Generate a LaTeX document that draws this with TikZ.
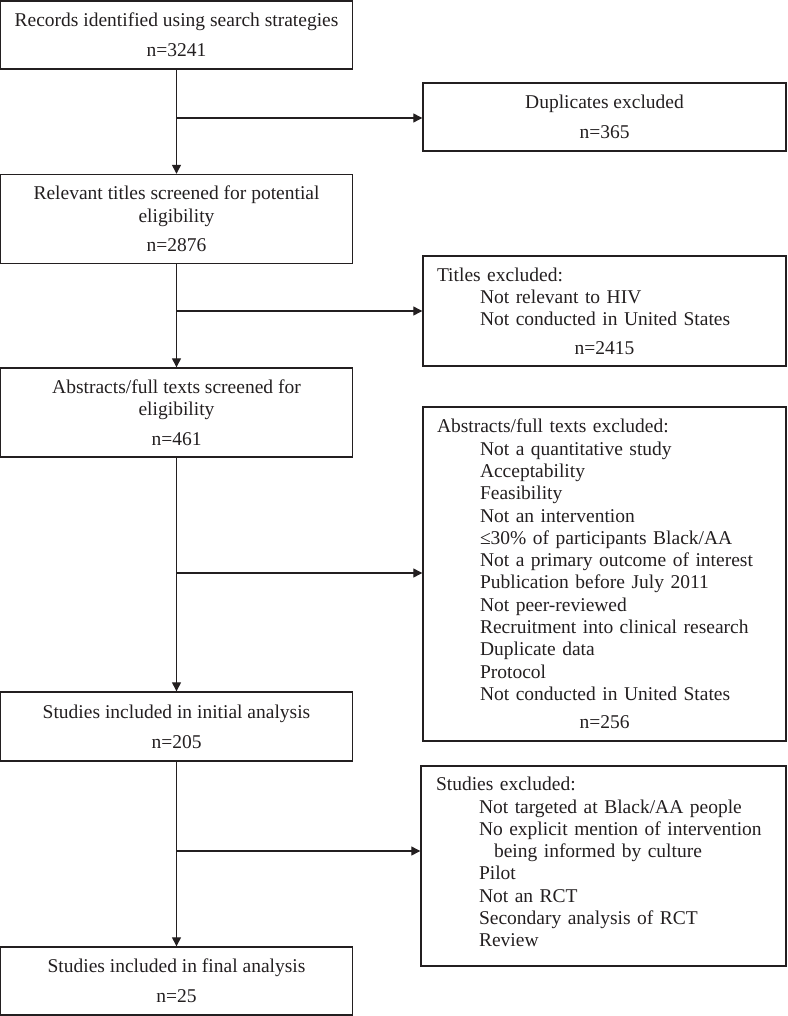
\documentclass[tikz,border=0pt]{standalone}
\usepackage{fontspec}
\setmainfont{Liberation Serif}
\usetikzlibrary{arrows.meta}
\definecolor{ln}{HTML}{231F20}
\newcommand{\myind}{\hspace*{43pt}}
\begin{document}
\begin{tikzpicture}[x=1pt,y=1pt,
  every node/.style={font=\fontsize{19.5}{22.3}\selectfont, text=ln},
  cbox/.style={draw=ln, line width=1.4pt, inner sep=0pt, align=center},
  rbox/.style={draw=ln, line width=1.4pt, inner sep=0pt, minimum width=363pt,
    text width=335pt, align=left, execute at begin node={\setlength{\parindent}{0pt}}},
  arr/.style={draw=ln, line width=1.3pt, -{Triangle[length=9pt,width=9pt]}},
  brl/.style={draw=ln, line width=1.2pt, -{Triangle[length=9pt,width=9pt]}}]
\useasboundingbox (0,0) rectangle (787,-1016);

% main column
\node[cbox, minimum width=352pt, minimum height=68pt] (b1) at (176.5,-35)
  {Records identified using search strategies\\[8pt]n=3241};
\node[cbox, minimum width=352pt, minimum height=89pt] (b3) at (176.5,-219)
  {Relevant titles screened for potential\\eligibility\\[7pt]n=2876};
\node[cbox, minimum width=352pt, minimum height=89pt] (b4) at (176.5,-412.5)
  {Abstracts/full texts screened for\\eligibility\\[7pt]n=461};
\node[cbox, minimum width=352pt, minimum height=69pt] (b5) at (176.5,-726.5)
  {Studies included in initial analysis\\[8pt]n=205};
\node[cbox, minimum width=352pt, minimum height=68pt] (b6) at (176.5,-981)
  {Studies included in final analysis\\[8pt]n=25};

% exclusion column
\node[cbox, minimum width=363pt, minimum height=68pt] (d1) at (604.5,-117)
  {Duplicates excluded\\[8pt]n=365};
\node[rbox, minimum height=110pt] (d2) at (604.5,-311)
  {Titles excluded:\\
   \myind Not relevant to HIV\\
   \myind Not conducted in United States\\[6pt]
   \makebox[335pt]{n=2415}};
\node[rbox, minimum height=334pt] (d3) at (604.5,-574)
  {Abstracts/full texts excluded:\\
   \myind Not a quantitative study\\
   \myind Acceptability\\
   \myind Feasibility\\
   \myind Not an intervention\\
   \myind ≤30\% of participants Black/AA\\
   \myind Not a primary outcome of interest\\
   \myind Publication before July 2011\\
   \myind Not peer-reviewed\\
   \myind Recruitment into clinical research\\
   \myind Duplicate data\\
   \myind Protocol\\
   \myind Not conducted in United States\\[6pt]
   \makebox[335pt]{n=256}};
\node[rbox, minimum width=365pt, minimum height=200pt] (d4) at (603.5,-866)
  {Studies excluded:\\
   \myind Not targeted at Black/AA people\\
   \myind No explicit mention of intervention\\
   \myind\hspace*{15pt}being informed by culture\\
   \myind Pilot\\
   \myind Not an RCT\\
   \myind Secondary analysis of RCT\\
   \myind\raisebox{0pt}[\height][8pt]{Review}};

% branch points
\coordinate (c1) at (176.5,-118);
\coordinate (c2) at (176.5,-311);
\coordinate (c3) at (176.5,-573);
\coordinate (c4) at (176.5,-851);

% vertical flow
\draw[arr] (b1) -- (b3);
\draw[arr] (b3) -- (b4);
\draw[arr] (b4) -- (b5);
\draw[arr] (b5) -- (b6);

% exclusion branches
\draw[brl] (c1) -- (c1 -| d1.west);
\draw[brl] (c2) -- (c2 -| d2.west);
\draw[brl] (c3) -- (c3 -| d3.west);
\draw[brl] (c4) -- (c4 -| d4.west);
\end{tikzpicture}
\end{document}
